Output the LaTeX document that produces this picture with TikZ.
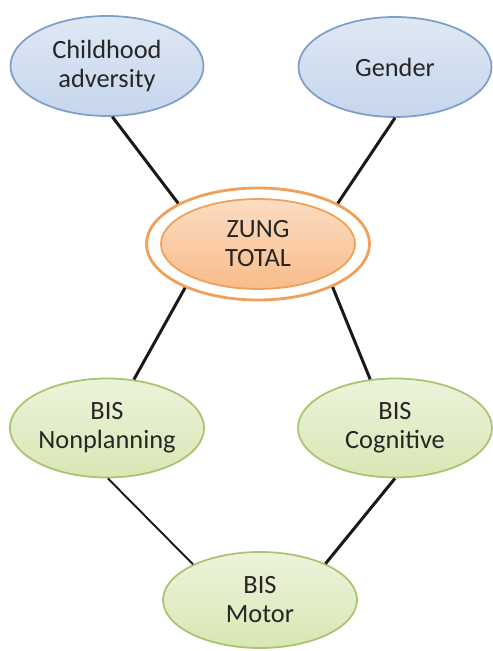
\documentclass[tikz,border=0pt]{standalone}
\usepackage{fontspec}
\setmainfont{Carlito}
\usepackage{tikz}
\usetikzlibrary{shapes.geometric}

\definecolor{bluefill}{HTML}{C6D6EC}
\definecolor{bluetop}{HTML}{DFE8F4}
\definecolor{blueline}{HTML}{7F9FCB}
\definecolor{orangefill}{HTML}{F8BC8A}
\definecolor{orangetop}{HTML}{FCDCC2}
\definecolor{orangeline}{HTML}{F0A05A}
\definecolor{greenfill}{HTML}{D9E6B4}
\definecolor{greentop}{HTML}{EDF3DC}
\definecolor{greenline}{HTML}{A9C46E}

\begin{document}
\begin{tikzpicture}[
    every node/.style={font=\fontsize{15}{16.5}\selectfont, align=center, text=black!85},
    var/.style={ellipse, inner sep=0pt, line width=1pt},
    cause/.style={var, draw=blueline, top color=bluetop, bottom color=bluefill,
                  minimum width=3.86cm, minimum height=2.0cm},
    facet/.style={var, draw=greenline, top color=greentop, bottom color=greenfill,
                  minimum width=3.88cm, minimum height=1.98cm},
    link/.style={line width=1.7pt, black!90}
  ]
    \useasboundingbox (0,0) rectangle (9.84,13.02);

    \node[cause] (a) at (2.14,11.70) {Childhood\\adversity};
    \node[cause] (b) at (7.90,11.68) {Gender};

    \node[var, draw=orangeline, fill=white, line width=1.6pt,
          minimum width=4.46cm, minimum height=2.24cm] (z) at (5.16,8.14) {};
    \node[var, draw=orangeline, top color=orangetop, bottom color=orangefill,
          minimum width=3.88cm, minimum height=1.80cm] (zi) at (z.center) {ZUNG\\TOTAL};

    \node[facet] (c) at (2.14,4.46) {BIS\\Nonplanning};
    \node[facet] (d) at (7.90,4.46) {BIS\\Cognitive};
    \node[facet, minimum height=1.92cm] (e) at (5.20,1.02) {BIS\\Motor};

    \draw[link] (a.276) -- (z.153);
    \draw[link] (b.270) -- (z.27);
    \draw[link] (z.211) -- (c.61);
    \draw[link] (z.330) -- (d.117);
    \draw[link, line width=1.1pt] (c.271) -- (e.152);
    \draw[link] (d.270) -- (e.29);
  \end{tikzpicture}
\end{document}
